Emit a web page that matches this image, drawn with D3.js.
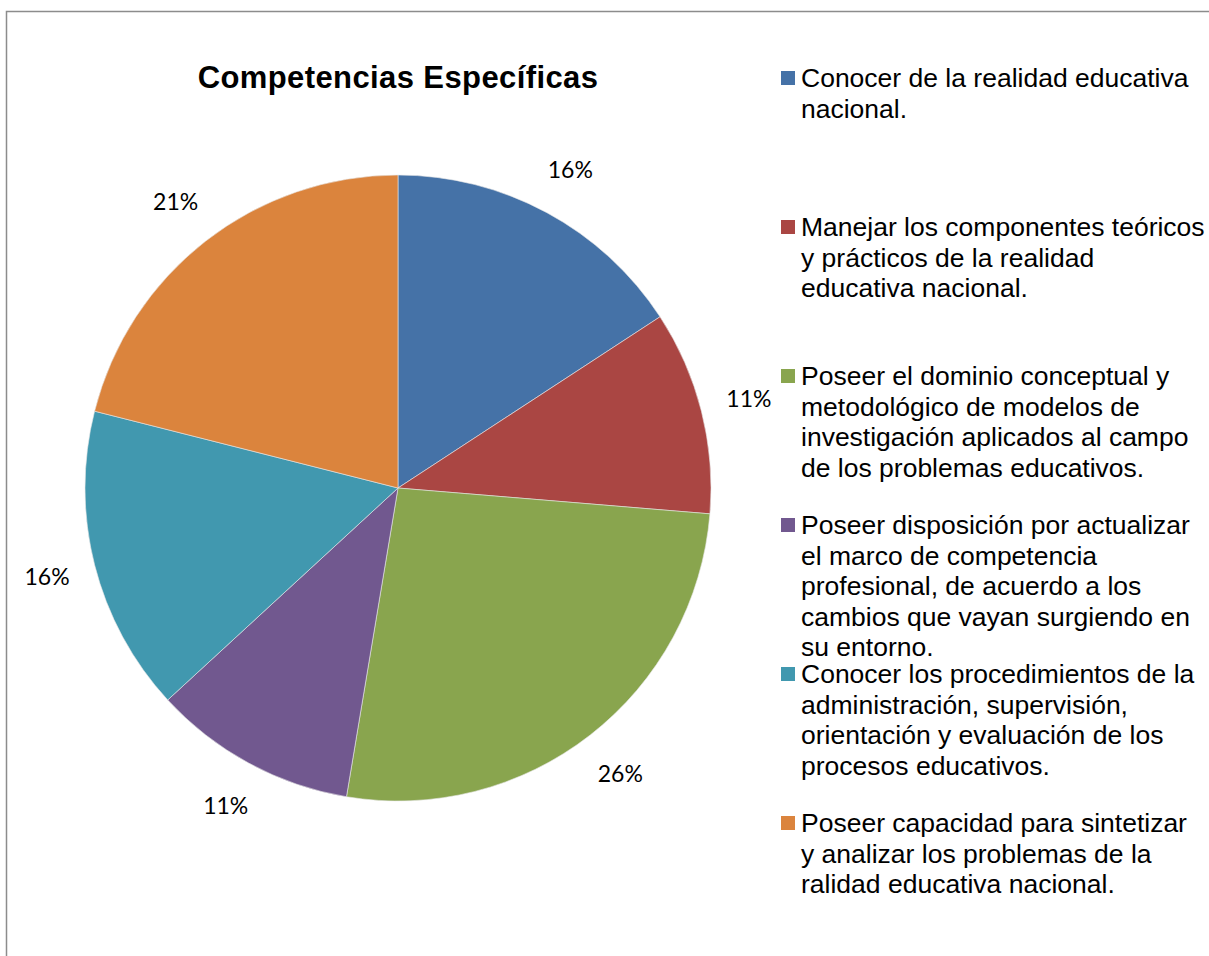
<!DOCTYPE html>
<html>
<head>
<meta charset="utf-8">
<script src="https://cdn.jsdelivr.net/npm/d3@7"></script>
<style>
  body { margin: 0; background: #fff; }
  svg { display: block; }
</style>
</head>
<body>
<svg id="chart" width="1209" height="956"></svg>
<script>
// data (counts out of 19)
let categories = [
  ["Conocer de la realidad educativa", "nacional."],
  ["Manejar los componentes teóricos", "y prácticos de la realidad", "educativa nacional."],
  ["Poseer el dominio conceptual y", "metodológico de modelos de", "investigación aplicados al campo", "de los problemas educativos."],
  ["Poseer disposición por actualizar", "el marco de competencia", "profesional, de acuerdo a los", "cambios que vayan surgiendo en", "su entorno."],
  ["Conocer los procedimientos de la", "administración, supervisión,", "orientación y evaluación de los", "procesos educativos."],
  ["Poseer capacidad para sintetizar", "y analizar los problemas de la", "ralidad educativa nacional."]
];
let values = [3, 2, 5, 2, 3, 4];
let colors = ["#4572A7", "#AA4643", "#89A54E", "#71588F", "#4198AF", "#DB843D"];
let chartTitle = "Competencias Específicas";

let width = 1209;
let height = 956;
let cx = 398, cy = 488, radius = 313;

let svg = d3.select("#chart");

// outer frame
svg.append("rect")
    .attr("x", 6.5)
    .attr("y", 11.5)
    .attr("width", width + 20)
    .attr("height", height + 20)
    .attr("fill", "white")
    .attr("stroke", "#8c8c8c")
    .attr("stroke-width", 1.5);

svg.append("text")
    .attr("x", cx)
    .attr("y", 88)
    .attr("text-anchor", "middle")
    .attr("font-family", "Liberation Sans, Arial, sans-serif")
    .attr("font-weight", "bold")
    .attr("font-size", 31)
    .attr("letter-spacing", 0.4)
    .text(chartTitle);

let total = d3.sum(values);
let pie = d3.pie().sort(null).value(d => d);
let arcs = pie(values);

let arc = d3.arc().innerRadius(0).outerRadius(radius);
let labelArc = d3.arc().innerRadius(362).outerRadius(362);

let g = svg.append("g")
    .attr("transform", "translate(" + cx + "," + cy + ")");

g.selectAll("path")
    .data(arcs)
    .enter()
    .append("path")
    .attr("d", arc)
    .attr("fill", (d, i) => colors[i])
    .attr("stroke", "#e8e8e8")
    .attr("stroke-width", 0.6);

let pct = d3.format(".0%");

g.selectAll("text.pct")
    .data(arcs)
    .enter()
    .append("text")
    .attr("class", "pct")
    .attr("transform", d => "translate(" + labelArc.centroid(d) + ")")
    .attr("text-anchor", "middle")
    .attr("dy", "0.35em")
    .attr("font-family", "Lato, sans-serif")
    .attr("font-size", 23)
    .attr("fill", "#000")
    .text(d => pct(d.value / total));

// legend
let legendY = d3.scaleLinear().domain([0, categories.length - 1]).range([87, 832]);
let legend = svg.append("g");

let items = legend.selectAll("g")
    .data(categories)
    .enter()
    .append("g")
    .attr("transform", (d, i) => "translate(0," + legendY(i) + ")");

items.append("rect")
    .attr("x", 781)
    .attr("y", -16)
    .attr("width", 14)
    .attr("height", 14)
    .attr("fill", (d, i) => colors[i]);

items.append("text")
    .attr("x", 801)
    .attr("y", 0)
    .attr("font-family", "Liberation Sans, Arial, sans-serif")
    .attr("font-size", 26.5)
    .attr("fill", "#000")
    .selectAll("tspan")
    .data(d => d)
    .enter()
    .append("tspan")
    .attr("x", 801)
    .attr("dy", (d, i) => i === 0 ? 0 : 30.5)
    .text(d => d);
</script>
</body>
</html>
